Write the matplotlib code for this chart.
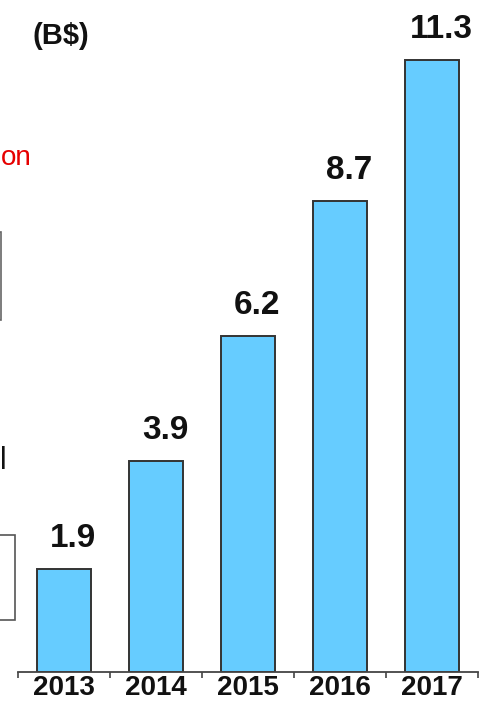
import matplotlib
matplotlib.use("Agg")
import matplotlib.pyplot as plt
from matplotlib.patches import Rectangle

plt.rcParams['font.family'] = ['Liberation Sans', 'DejaVu Sans']

# market size by year (B$)
years = ['2013', '2014', '2015', '2016', '2017']
values = [1.9, 3.9, 6.2, 8.7, 11.3]

W, H = 483, 708
fig = plt.figure(figsize=(W / 100, H / 100), dpi=100)

# axes placed in pixel terms: baseline 36 px from bottom, 18..478 px wide
ax = fig.add_axes([18 / W, 36 / H, 460 / W, 672 / H])
x = list(range(len(years)))
ax.bar(x, values, width=0.59, color='#66ccff', edgecolor='#333333', linewidth=1.4, zorder=2)

# value labels sit slightly right of the bar centre
for xi, v in zip(x, values):
    ax.annotate(f'{v:.1f}', (xi, v), xytext=(6.5, 11), textcoords='offset points',
                ha='center', va='bottom', fontsize=24, fontweight='bold', color='#111111')

ax.set_xlim(-0.5, len(years) - 0.5)
ax.set_ylim(0, 12.41)
for side in ['top', 'right', 'left']:
    ax.spines[side].set_visible(False)
ax.spines['bottom'].set_color('#444444')
ax.spines['bottom'].set_linewidth(1.3)
ax.set_yticks([])

ax.set_xticks(x)
ax.set_xticklabels(years, fontsize=20, fontweight='bold', color='#111111')
ax.tick_params(axis='x', which='major', length=0, pad=2.5)
ax.set_xticks([i - 0.5 for i in range(len(years) + 1)], minor=True)
ax.tick_params(axis='x', which='minor', length=4, width=1.2, color='#444444', direction='out')

# unit label
fig.text(33 / W, 1 - 36 / H, '(B$)', fontsize=21, fontweight='bold', color='#111111',
         ha='left', va='center')

# pieces of the neighbouring panel at the left edge
fig.text(1 / W, 1 - 158 / H, 'on', fontsize=20, color='#e60000', ha='left', va='center')
fig.text(7 / W, 1 - 461 / H, 'l', fontsize=22, color='#111111', ha='right', va='center')
fig.add_artist(Rectangle((-20 / W, 1 - 320 / H), 21 / W, 88 / H, transform=fig.transFigure,
                         fill=False, edgecolor='#666666', linewidth=1.2))
fig.add_artist(Rectangle((-20 / W, 1 - 620 / H), 35 / W, 85 / H, transform=fig.transFigure,
                         fill=False, edgecolor='#555555', linewidth=1.2))

fig.savefig('out.png', dpi=100)
